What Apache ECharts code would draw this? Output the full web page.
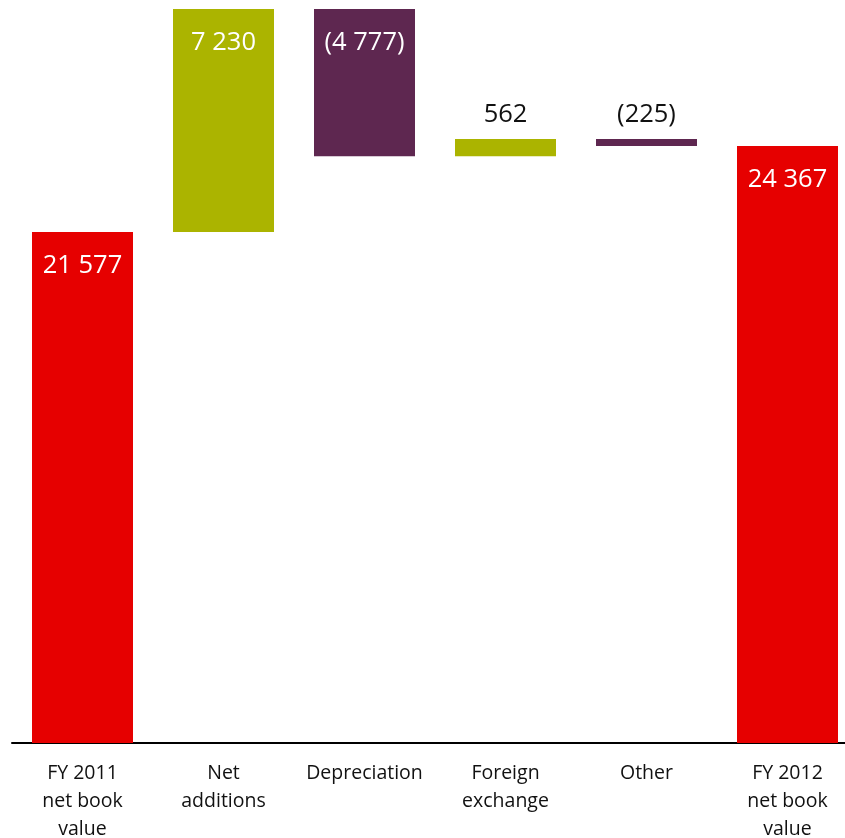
<!DOCTYPE html>
<html>
<head>
<meta charset="utf-8">
<script src="https://cdn.jsdelivr.net/npm/echarts@6/dist/echarts.min.js"></script>
<style>
  html, body { margin: 0; padding: 0; background: #fff; }
  #chart { width: 845px; height: 838px; }
</style>
</head>
<body>
<div id="chart"></div>
<script>
// Property, plant and equipment movement (£m)
const categories = ['FY 2011\nnet book\nvalue', 'Net\nadditions', 'Depreciation', 'Foreign\nexchange', 'Other', 'FY 2012\nnet book\nvalue'];
const changes = [21577, 7230, -4777, 562, -225, 24367];
const isTotal = [true, false, false, false, false, true];
const valueLabels = ['21 577', '7 230', '(4 777)', '562', '(225)', '24 367'];

const RED = '#E60000', GREEN = '#ABB400', PURPLE = '#5E2750';

// Running totals give the invisible base and the visible height of each bar
const baseData = [], barData = [];
let running = 0;
changes.forEach((v, i) => {
  if (isTotal[i]) {
    baseData.push(0);
    barData.push(v);
    running = v;
  } else {
    const next = running + v;
    baseData.push(Math.min(running, next));
    barData.push(Math.abs(v));
    running = next;
  }
});

const barItems = barData.map((v, i) => {
  const color = isTotal[i] ? RED : (changes[i] >= 0 ? GREEN : PURPLE);
  const inside = Math.abs(changes[i]) > 2000;
  return {
    value: v,
    itemStyle: { color: color },
    label: inside
      ? { show: true, position: 'insideTop', distance: 21, color: '#fff' }
      : { show: true, position: 'top', distance: 11, color: '#111' }
  };
});

const chart = echarts.init(document.getElementById('chart'), null, { renderer: 'canvas' });
chart.setOption({
  animation: false,
  backgroundColor: '#fff',
  grid: { left: 12, top: 9, width: 846, height: 734, containLabel: false, outerBoundsMode: 'none' },
  xAxis: {
    type: 'category',
    data: categories,
    axisLine: { show: true, lineStyle: { color: '#000', width: 2 } },
    axisTick: { show: false },
    axisLabel: {
      interval: 0,
      color: '#111',
      fontFamily: 'Open Sans',
      fontSize: 19.5,
      lineHeight: 28,
      margin: 16
    }
  },
  yAxis: {
    type: 'value',
    min: 5000,
    max: 28810,
    show: false,
    splitLine: { show: false }
  },
  series: [
    {
      type: 'bar',
      stack: 'wf',
      data: baseData,
      itemStyle: { color: 'transparent' },
      emphasis: { disabled: true },
      silent: true,
      barWidth: 101
    },
    {
      type: 'bar',
      stack: 'wf',
      data: barItems,
      barWidth: 101,
      clip: true,
      label: {
        fontFamily: 'Open Sans',
        fontSize: 25.5,
        formatter: p => valueLabels[p.dataIndex]
      }
    }
  ]
});
</script>
</body>
</html>
